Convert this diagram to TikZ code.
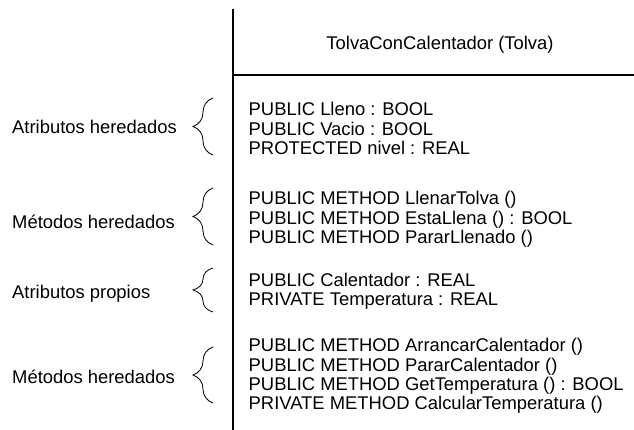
\documentclass[tikz,border=0pt]{standalone}
\usepackage{fontspec}
\setmainfont{Liberation Sans}
\usetikzlibrary{decorations.pathreplacing,positioning}

\begin{document}
\begin{tikzpicture}[
    x=1pt, y=-1pt,
    txt/.style={inner sep=0pt, font=\fontsize{18.4}{19.3}\selectfont},
    lbl/.style={txt, anchor=base west},
    members/.style={txt, anchor=north west, align=left},
    frame/.style={line width=1.1pt},
    curly/.style={decorate, decoration={brace, amplitude=20pt}, line width=0.8pt}
  ]
  \useasboundingbox (0,0) rectangle (634,430);
  \coordinate (top) at (233,9);
  \coordinate (bottom) at (233,430);
  \coordinate (split) at (233,75);
  \coordinate (splitend) at (634,75);
  \draw[frame] (top) -- (bottom);
  \draw[frame] (split) -- (splitend);
  \node[txt, anchor=base] (title) at (440,49.6) {TolvaConCalentador (Tolva)};
  \node[members] (attrinh) at (248.5,102.4) {PUBLIC Lleno : BOOL\\PUBLIC Vacio : BOOL\\PROTECTED nivel : REAL};
  \node[members] (methinh) at (248.5,191.4) {PUBLIC METHOD LlenarTolva ()\\PUBLIC METHOD EstaLlena () : BOOL\\PUBLIC METHOD PararLlenado ()};
  \node[members] (attrown) at (248.5,272.9) {PUBLIC Calentador : REAL\\PRIVATE Temperatura : REAL};
  \node[members] (methown) at (248.5,338.4) {PUBLIC METHOD ArrancarCalentador ()\\PUBLIC METHOD PararCalentador ()\\PUBLIC METHOD GetTemperatura () : BOOL\\PRIVATE METHOD CalcularTemperatura ()};
  \draw[curly] (213,155) -- (213,98);
  \draw[curly] (213,245) -- (213,188);
  \draw[curly] (213,312) -- (213,268);
  \draw[curly] (213,403) -- (213,347);
  \node[lbl] (attrinhlbl) at (12,133.6) {Atributos heredados};
  \node[lbl] (methinhlbl) at (12,228.6) {Métodos heredados};
  \node[lbl] (attrownlbl) at (12,298.6) {Atributos propios};
  \node[lbl] (methownlbl) at (12,383.6) {Métodos heredados};
\end{tikzpicture}
\end{document}
